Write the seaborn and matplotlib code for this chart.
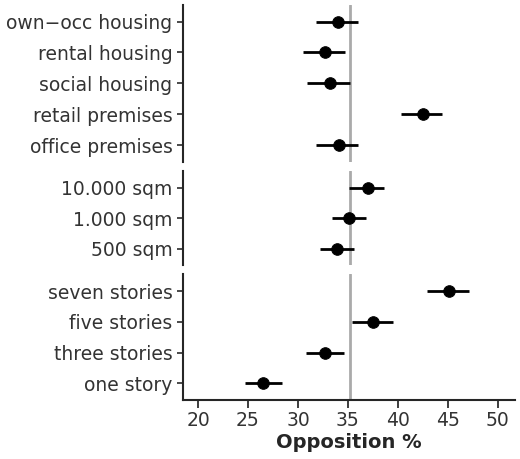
import matplotlib
matplotlib.use("Agg")
import matplotlib.pyplot as plt
import seaborn as sns
import pandas as pd

# groups of attributes, top to bottom
labels_type = ["own\u2212occ housing", "rental housing", "social housing", "retail premises", "office premises"]
est_type = [34.0, 32.7, 33.2, 42.5, 34.1]
lo_type = [31.8, 30.5, 30.9, 40.3, 31.8]
hi_type = [36.0, 34.7, 35.2, 44.4, 36.0]

labels_size = ["10.000 sqm", "1.000 sqm", "500 sqm"]
est_size = [37.0, 35.1, 33.9]
lo_size = [35.1, 33.4, 32.2]
hi_size = [38.6, 36.8, 35.6]

labels_height = ["seven stories", "five stories", "three stories", "one story"]
est_height = [45.1, 37.5, 32.7, 26.5]
lo_height = [42.9, 35.4, 30.8, 24.7]
hi_height = [47.1, 39.5, 34.6, 28.4]

ref_line = 35.2

sns.set_theme(style="ticks")
plt.rcParams['font.family'] = ['DejaVu Sans']

groups = [
    (labels_type, est_type, lo_type, hi_type),
    (labels_size, est_size, lo_size, hi_size),
    (labels_height, est_height, lo_height, hi_height),
]

fig, axes = plt.subplots(3, 1, figsize=(5.2, 4.59), dpi=100, sharex=True,
                         gridspec_kw={'height_ratios': [5, 3, 4], 'hspace': 0.07})

for ax, (labs, est, lo, hi) in zip(axes, groups):
    df = pd.DataFrame({'label': labs, 'est': est, 'lo': lo, 'hi': hi})
    ax.axvline(ref_line, color='#aaaaaa', lw=2, zorder=0)
    ax.hlines(df['label'], df['lo'], df['hi'], color='black', lw=2)
    sns.scatterplot(data=df, x='est', y='label', ax=ax, color='black', s=70, zorder=3, edgecolor='black')
    n = len(labs)
    ax.set_ylim(n - 0.45, -0.55)
    ax.set_ylabel('')
    ax.set_xlabel('')
    ax.tick_params(axis='y', labelsize=13.5, length=4, colors='#333333', labelcolor='#333333')
    sns.despine(ax=ax, bottom=True)
    ax.spines['left'].set_linewidth(1.5)
    ax.tick_params(axis='x', bottom=False, labelbottom=False)

ax = axes[-1]
ax.set_xlim(18.5, 51.7)
ax.set_xticks(range(20, 51, 5))
ax.spines['bottom'].set_visible(True)
ax.spines['bottom'].set_linewidth(1.5)
ax.tick_params(axis='x', bottom=True, labelbottom=True, labelsize=13.5, labelcolor='#333333', pad=2)
ax.set_xlabel('Opposition %', fontsize=14, fontweight='bold', labelpad=2)

fig.subplots_adjust(left=0.352, right=0.99, top=0.99, bottom=0.128)
fig.savefig("out.png", dpi=100)
